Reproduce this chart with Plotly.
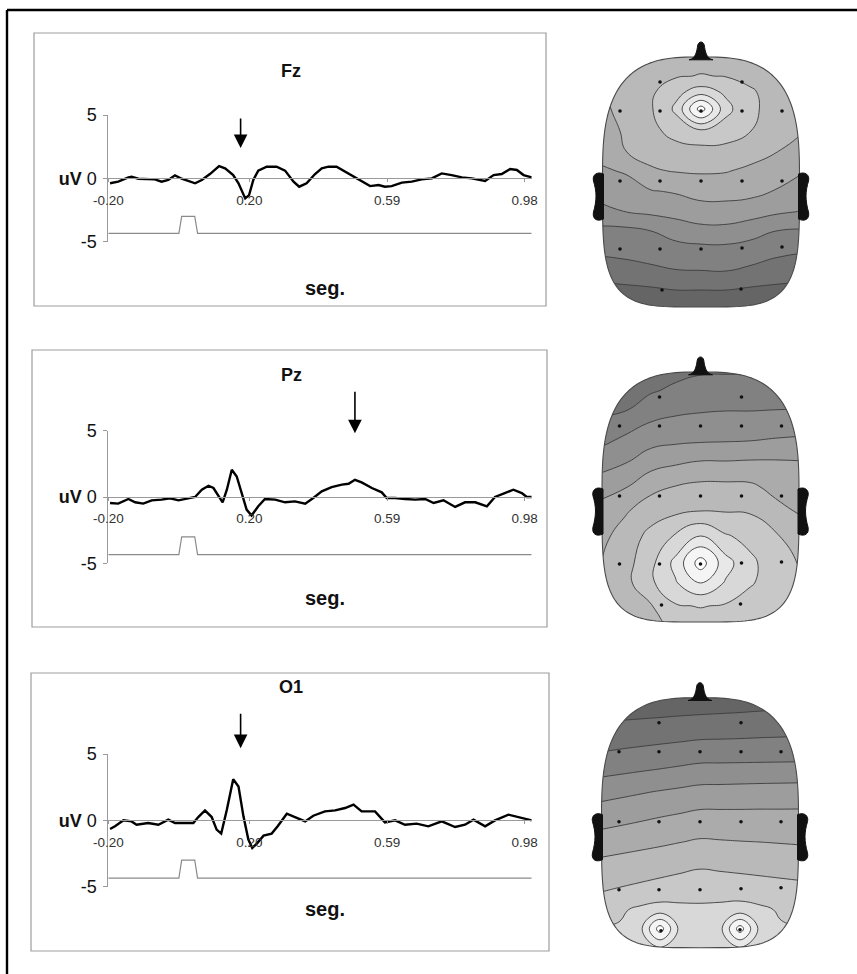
import numpy as np
import plotly.graph_objects as go

W, H = 857, 974
FONT = "Arial, 'Liberation Sans', Helvetica, sans-serif"

# ------------------------------------------------------------------ data
channels = ["Fz", "Pz", "O1"]
tick_vals = [-0.20, 0.20, 0.59, 0.98]
tick_text = ["-0.20", "0.20", "0.59", "0.98"]
y_tick_vals = [-5, 0, 5]
y_tick_text = ["-5", "<b>uV</b> 0", "5"]

fz_t = [-0.195, -0.172, -0.143, -0.134, -0.115, -0.068, -0.049, -0.030, -0.011, 0.008,
        0.046, 0.065, 0.088, 0.114, 0.131, 0.154, 0.169, 0.188, 0.199, 0.211,
        0.225, 0.249, 0.277, 0.301, 0.325, 0.341, 0.362, 0.386, 0.405, 0.424,
        0.447, 0.466, 0.495, 0.518, 0.542, 0.566, 0.584, 0.603, 0.632, 0.660,
        0.688, 0.717, 0.745, 0.773, 0.802, 0.830, 0.868, 0.892, 0.915, 0.939,
        0.958, 0.977, 1.000]
fz_v = [-0.39, -0.26, 0.08, 0.13, -0.03, -0.08, -0.26, -0.13, 0.24, -0.03,
        -0.39, -0.13, 0.34, 0.97, 0.79, 0.26, -0.39, -1.58, -1.32, -0.13,
        0.61, 0.92, 0.92, 0.61, -0.26, -0.66, -0.39, 0.34, 0.79, 0.92,
        0.92, 0.61, 0.13, -0.26, -0.61, -0.53, -0.66, -0.61, -0.34, -0.26,
        -0.08, 0.00, 0.39, 0.26, 0.08, 0.00, -0.21, 0.26, 0.34, 0.74,
        0.66, 0.26, 0.08]

pz_t = [-0.195, -0.172, -0.143, -0.124, -0.101, -0.077, -0.049, -0.025, -0.001, 0.022,
        0.046, 0.065, 0.084, 0.098, 0.112, 0.124, 0.136, 0.150, 0.164, 0.178,
        0.192, 0.206, 0.225, 0.244, 0.273, 0.301, 0.329, 0.358, 0.381, 0.405,
        0.433, 0.462, 0.481, 0.499, 0.518, 0.547, 0.575, 0.589, 0.613, 0.641,
        0.670, 0.698, 0.722, 0.750, 0.783, 0.811, 0.840, 0.873, 0.896, 0.920,
        0.948, 0.972, 0.986, 1.000]
pz_v = [-0.45, -0.50, -0.15, -0.40, -0.50, -0.25, -0.20, -0.10, -0.25, -0.15,
        0.00, 0.55, 0.85, 0.68, 0.05, -0.40, 0.55, 2.05, 1.55, 0.30,
        -0.95, -1.40, -0.70, -0.15, -0.20, -0.40, -0.33, -0.50, -0.08, 0.43,
        0.75, 0.93, 1.00, 1.30, 1.10, 0.68, 0.35, -0.08, -0.08, -0.15,
        -0.20, -0.15, -0.45, -0.25, -0.75, -0.40, -0.40, -0.70, 0.00, 0.25,
        0.55, 0.30, 0.00, 0.00]

o1_t = [-0.195, -0.181, -0.157, -0.134, -0.120, -0.087, -0.058, -0.030, -0.011, 0.041,
        0.055, 0.074, 0.093, 0.107, 0.120, 0.136, 0.154, 0.169, 0.183, 0.197,
        0.208, 0.221, 0.240, 0.263, 0.280, 0.306, 0.329, 0.358, 0.381, 0.414,
        0.443, 0.471, 0.495, 0.518, 0.556, 0.584, 0.613, 0.641, 0.674, 0.707,
        0.745, 0.783, 0.811, 0.835, 0.868, 0.896, 0.934, 0.962, 0.991, 1.000]
o1_v = [-0.65, -0.45, 0.00, -0.08, -0.33, -0.20, -0.33, 0.05, -0.20, -0.20,
        0.25, 0.75, 0.25, -0.70, -1.00, 0.80, 3.10, 2.55, 0.30, -1.45,
        -2.08, -1.75, -1.15, -1.00, -0.45, 0.50, 0.25, -0.08, 0.35, 0.68,
        0.75, 0.93, 1.18, 0.68, 0.68, -0.15, 0.00, -0.33, -0.25, -0.45,
        -0.08, -0.50, -0.33, 0.05, -0.45, 0.00, 0.43, 0.25, 0.10, 0.00]

stim_t = [-0.20, 0.000, 0.008, 0.045, 0.053, 1.00]
stim_v = [-4.35, -4.35, -3.00, -3.00, -4.35, -4.35]

arrow_t = [0.175, 0.499, 0.175]
arrow_v = [2.39, 4.80, 5.44]

# topographic maps: estimated field levels on a grid (head units)
fz_grid_u = [-1.05, -0.75, -0.5, -0.25, 0.0, 0.25, 0.5, 0.75, 1.05]
fz_grid_v = [1.3, 1.05, 0.9, 0.72, 0.5, 0.3, 0.1, -0.1, -0.3, -0.5, -0.7, -0.9, -1.1, -1.3]
fz_z = [
    [4.0, 4.4, 4.7, 4.9, 5.0, 4.9, 4.9, 4.7, 4.4],
    [4.2, 4.6, 5.0, 5.4, 5.55, 5.45, 5.2, 4.9, 4.5],
    [4.3, 4.9, 5.3, 6.2, 6.9, 6.3, 5.6, 5.1, 4.6],
    [4.2, 4.8, 5.4, 6.7, 10.0, 6.8, 5.7, 5.1, 4.6],
    [4.1, 4.6, 5.2, 5.9, 6.3, 6.0, 5.5, 5.0, 4.45],
    [3.8, 4.5, 4.8, 5.1, 5.17, 5.2, 4.9, 4.55, 4.0],
    [3.3, 3.6, 4.4, 4.55, 4.6, 4.55, 4.3, 4.0, 3.5],
    [2.8, 3.04, 3.45, 3.6, 3.9, 3.9, 3.8, 3.45, 3.0],
    [2.2, 2.55, 2.74, 2.9, 3.08, 3.1, 2.96, 2.7, 2.45],
    [1.25, 1.25, 1.5, 1.9, 2.2, 2.2, 1.9, 1.5, 1.4],
    [0.65, 0.75, 0.9, 1.1, 1.13, 1.15, 1.0, 0.7, 0.55],
    [0.0, 0.15, 0.3, 0.45, 0.48, 0.5, 0.3, 0.1, -0.05],
    [-0.9, -0.8, -0.7, -0.55, -0.55, -0.55, -0.7, -0.8, -0.9],
    [-1.0, -1.0, -1.0, -1.0, -1.0, -1.0, -1.0, -1.0, -1.0],
]

pz_grid_u = [-1.05, -0.75, -0.5, -0.25, 0.0, 0.25, 0.5, 0.75, 1.05]
pz_grid_v = [1.3, 1.05, 0.85, 0.6, 0.35, 0.1, -0.15, -0.4, -0.67, -0.87, -1.1, -1.3]
pz_z = [
    [-0.8, -0.6, -0.2, 0.1, 0.3, 0.3, 0.3, 0.2, 0.1],
    [-0.3, -0.1, 0.4, 0.7, 0.85, 0.9, 0.85, 0.75, 0.6],
    [0.35, 0.5, 1.1, 1.35, 1.45, 1.5, 1.5, 1.55, 1.6],
    [1.0, 1.55, 2.0, 2.1, 2.15, 2.2, 2.25, 2.4, 2.5],
    [1.9, 2.4, 3.0, 3.3, 3.5, 3.5, 3.55, 3.55, 3.5],
    [3.0, 3.4, 4.2, 4.5, 4.7, 4.7, 4.65, 4.2, 3.9],
    [3.8, 4.4, 5.0, 5.3, 5.5, 5.45, 5.4, 4.8, 4.3],
    [4.1, 4.9, 5.8, 6.6, 7.5, 6.6, 6.2, 5.6, 5.0],
    [4.35, 5.13, 6.2, 7.8, 10.0, 7.9, 6.7, 6.0, 5.3],
    [4.4, 5.2, 6.3, 7.4, 8.5, 7.4, 6.6, 6.0, 5.4],
    [4.4, 4.9, 5.4, 6.4, 6.55, 6.4, 6.0, 5.7, 5.3],
    [4.3, 4.7, 5.1, 5.8, 6.0, 5.8, 5.6, 5.4, 5.2],
]

o1_grid_u = [-1.05, -0.8, -0.6, -0.4, -0.2, 0.0, 0.2, 0.4, 0.6, 0.8, 1.05]
o1_grid_v = [1.3, 1.05, 0.8, 0.55, 0.3, 0.05, -0.2, -0.45, -0.7, -0.88, -1.07, -1.3]
o1_z = [
    [-1.5, -1.48, -1.46, -1.44, -1.42, -1.4, -1.34, -1.29, -1.23, -1.17, -1.1],
    [-0.7, -0.63, -0.58, -0.53, -0.47, -0.42, -0.38, -0.34, -0.29, -0.25, -0.2],
    [0.1, 0.22, 0.31, 0.40, 0.49, 0.58, 0.60, 0.62, 0.65, 0.67, 0.7],
    [1.0, 1.16, 1.28, 1.40, 1.53, 1.65, 1.66, 1.67, 1.68, 1.69, 1.7],
    [2.1, 2.27, 2.41, 2.55, 2.68, 2.82, 2.84, 2.87, 2.90, 2.92, 2.95],
    [3.0, 3.18, 3.33, 3.48, 3.62, 3.77, 3.77, 3.76, 3.76, 3.75, 3.75],
    [3.9, 4.07, 4.2, 4.33, 4.47, 4.6, 4.56, 4.52, 4.49, 4.45, 4.4],
    [4.8, 4.95, 5.07, 5.19, 5.31, 5.43, 5.37, 5.31, 5.25, 5.18, 5.1],
    [5.45, 5.62, 5.75, 5.88, 6.01, 6.14, 6.07, 6.01, 5.94, 5.88, 5.8],
    [5.95, 6.35, 6.7, 6.95, 6.8, 6.7, 6.8, 6.95, 6.7, 6.4, 6.2],
    [6.4, 6.6, 7.2, 10.0, 7.2, 7.0, 7.2, 10.0, 7.2, 6.6, 6.4],
    [6.3, 6.45, 6.7, 6.9, 6.7, 6.6, 6.7, 6.9, 6.7, 6.45, 6.3],
]

elec_u = [-0.41, 0.41,
          -0.81, -0.41, 0.0, 0.41, 0.81,
          -0.81, -0.41, 0.0, 0.41, 0.81,
          -0.81, -0.41, 0.0, 0.41, 0.81,
          -0.39, 0.40]
elec_v = [0.99, 0.99,
          0.70, 0.70, 0.70, 0.70, 0.70,
          0.0, 0.0, 0.0, 0.0, 0.0,
          -0.68, -0.68, -0.68, -0.67, -0.66,
          -1.09, -1.08]

band_grays = ["#656565", "#737373", "#818181", "#8f8f8f", "#9d9d9d", "#ababab",
              "#b9b9b9", "#c8c8c8", "#d8d8d8", "#e8e8e8", "#f5f5f5", "#ffffff"]

# ------------------------------------------------------------------ layout helpers
def fx(px):
    return px / W


def fy(py):
    return 1 - py / H


wave_geo = [
    dict(top=115.0, bot=241.7, box=(34, 33, 546, 306), ty=59, sy=275, alen=31),
    dict(top=430.7, bot=563.3, box=(32, 350, 547, 627), ty=375, sy=598, alen=43),
    dict(top=754.0, bot=886.7, box=(31, 673, 549, 951), ty=699, sy=922, alen=36),
]
XL, XR = 108.3, 531.7
T0, T1 = -0.20, 1.00
YMIN, YMAX = -5, 5

map_geo = [dict(cx=701.0, cy=181.0), dict(cx=700.5, cy=496.0), dict(cx=700.0, cy=821.7)]
SC = 100.0   # pixels per head unit
UR, VR = 1.2, 1.45

waves = [(fz_t, fz_v), (pz_t, pz_v), (o1_t, o1_v)]
maps = [(fz_grid_u, fz_grid_v, fz_z), (pz_grid_u, pz_grid_v, pz_z), (o1_grid_u, o1_grid_v, o1_z)]

fig = go.Figure()
layout = dict(
    width=W, height=H, margin=dict(l=0, r=0, t=0, b=0, pad=0, autoexpand=False),
    paper_bgcolor="white", plot_bgcolor="white", showlegend=False,
    font=dict(family=FONT, color="black"),
)
shapes = []
annotations = []

AXC = "#9a9a9a"

for i in range(3):
    g = wave_geo[i]
    n = "" if i == 0 else str(i + 1)
    xr, yr = "x" + n, "y" + n
    d0, d1 = fy(g["bot"]), fy(g["top"])
    pos0 = d0 + (0 - YMIN) / (YMAX - YMIN) * (d1 - d0)
    layout["xaxis" + n] = dict(
        domain=[fx(XL), fx(XR)], range=[T0, T1], anchor="free", position=pos0,
        showline=True, linecolor=AXC, linewidth=1, ticks="outside", ticklen=3,
        tickcolor=AXC, tickvals=tick_vals, ticktext=tick_text,
        tickfont=dict(size=13.5, color="#333333", family=FONT),
        ticklabelstandoff=6, showgrid=False, zeroline=False, fixedrange=True,
        automargin=False,
    )
    layout["yaxis" + n] = dict(
        domain=[d0, d1], range=[YMIN, YMAX], anchor=xr,
        showline=True, linecolor=AXC, linewidth=1, ticks="outside", ticklen=4,
        tickcolor=AXC, tickvals=y_tick_vals, ticktext=y_tick_text,
        tickfont=dict(size=18, color="#111111", family=FONT),
        ticklabelstandoff=3, showgrid=False, zeroline=False, fixedrange=True,
        automargin=False,
    )
    fig.add_trace(go.Scatter(x=stim_t, y=stim_v, xaxis=xr, yaxis=yr, mode="lines",
                             line=dict(color="#8a8a8a", width=1.2), hoverinfo="skip"))
    t, v = waves[i]
    fig.add_trace(go.Scatter(x=t, y=v, xaxis=xr, yaxis=yr, mode="lines",
                             line=dict(color="black", width=2.4), hoverinfo="skip"))
    bx0, by0, bx1, by1 = g["box"]
    shapes.append(dict(type="rect", xref="paper", yref="paper",
                       x0=fx(bx0), x1=fx(bx1), y0=fy(by1), y1=fy(by0),
                       line=dict(color="#9d9d9d", width=1.2), layer="below"))
    annotations.append(dict(text="<b>%s</b>" % channels[i], xref="paper", yref="paper",
                            x=fx(291), y=fy(g["ty"]), showarrow=False,
                            font=dict(size=18, family=FONT, color="#111")))
    annotations.append(dict(text="<b>seg.</b>", xref="paper", yref="paper",
                            x=fx(325), y=fy(g["sy"]), showarrow=False,
                            font=dict(size=20, family=FONT, color="#111")))
    annotations.append(dict(text="", x=arrow_t[i], xref=xr,
                            y=(arrow_v[i] - YMIN) / (YMAX - YMIN), yref=yr + " domain",
                            ax=0, ay=-g["alen"], axref="pixel", ayref="pixel",
                            showarrow=True, arrowhead=2, arrowsize=1.7, arrowwidth=1.6,
                            arrowcolor="black", standoff=0))


# ------------------------------------------------------------------ head drawing helpers
def head_pts(a=0.985, bt=1.24, bb=1.26, nt=3.0, nb=4.2, N=200):
    pts = []
    for th in np.linspace(0, 2 * np.pi, N, endpoint=False):
        c, s = np.cos(th), np.sin(th)
        if s >= 0:
            nn, b = nt, bt
        else:
            nn, b = nb, bb
        u = a * np.sign(c) * abs(c) ** (2.0 / nn)
        vv = b * np.sign(s) * abs(s) ** (2.0 / nn)
        pts.append((u, vv))
    return pts


def pts_path(pts):
    return "M " + " L ".join("%.4f,%.4f" % p for p in pts) + " Z"


def ear_path(sg):
    p = [(-0.975, 0.07), (-1.04, 0.10), (-1.09, 0.06), (-1.075, 0.0),
         (-1.06, -0.05), (-1.05, -0.10), (-1.05, -0.15),
         (-1.05, -0.20), (-1.06, -0.26), (-1.075, -0.31),
         (-1.09, -0.38), (-1.04, -0.41), (-0.975, -0.38)]
    q = [("%.4f,%.4f" % (sg * x, y)) for x, y in p]
    return ("M %s C %s %s %s C %s %s %s C %s %s %s C %s %s %s Z" %
            tuple(q))


nose = ("M -0.12,1.212 C -0.05,1.225 -0.042,1.30 -0.032,1.36 "
        "C -0.022,1.40 0.022,1.40 0.032,1.36 C 0.042,1.30 0.05,1.225 0.12,1.212 Z")

colorscale = [[k / (len(band_grays) - 1), c] for k, c in enumerate(band_grays)]
hp = head_pts()
head_d = pts_path(hp)
mask_d = ("M %.3f,%.3f L %.3f,%.3f L %.3f,%.3f L %.3f,%.3f Z " %
          (-UR, -VR, UR, -VR, UR, VR, -UR, VR)) + head_d

for i in range(3):
    g = map_geo[i]
    n = str(i + 4)
    xr, yr = "x" + n, "y" + n
    layout["xaxis" + n] = dict(domain=[fx(g["cx"] - UR * SC), fx(g["cx"] + UR * SC)],
                               range=[-UR, UR], anchor=yr, visible=False, fixedrange=True)
    layout["yaxis" + n] = dict(domain=[fy(g["cy"] + VR * SC), fy(g["cy"] - VR * SC)],
                               range=[-VR, VR], anchor=xr, visible=False, fixedrange=True)
    gu, gv, gz = maps[i]
    fig.add_trace(go.Contour(
        x=gu, y=gv[::-1], z=gz[::-1], xaxis=xr, yaxis=yr,
        colorscale=colorscale, showscale=False, hoverinfo="skip",
        contours=dict(start=-0.5, end=9.5, size=1, coloring="fill", showlines=True),
        line=dict(color="#3c3c3c", width=0.9, smoothing=1.3),
    ))
    fig.add_trace(go.Scatter(x=elec_u, y=elec_v, xaxis=xr, yaxis=yr, mode="markers",
                             marker=dict(color="#111111", size=3.6), hoverinfo="skip"))
    shapes.append(dict(type="path", xref=xr, yref=yr, path=mask_d, fillcolor="white",
                       fillrule="evenodd", line=dict(width=0), layer="above"))
    shapes.append(dict(type="path", xref=xr, yref=yr, path=head_d,
                       fillcolor="rgba(0,0,0,0)", line=dict(color="#4a4a4a", width=1.1),
                       layer="above"))
    shapes.append(dict(type="path", xref=xr, yref=yr, path=nose, fillcolor="#111111",
                       line=dict(color="#111111", width=1), layer="above"))
    for sg in (1, -1):
        shapes.append(dict(type="path", xref=xr, yref=yr, path=ear_path(sg),
                           fillcolor="#111111", line=dict(color="#111111", width=1),
                           layer="above"))

# outer frame (top and left edges of the cropped figure border)
shapes.append(dict(type="line", xref="paper", yref="paper", x0=fx(7), x1=1.0,
                   y0=fy(10), y1=fy(10), line=dict(color="black", width=2.4)))
shapes.append(dict(type="line", xref="paper", yref="paper", x0=fx(7), x1=fx(7),
                   y0=fy(10), y1=0.0, line=dict(color="black", width=2.4)))

layout["shapes"] = shapes
layout["annotations"] = annotations
fig.update_layout(**layout)
fig.write_html("out.html", config={"displayModeBar": False, "staticPlot": True},
               post_script="document.body.style.margin='0px';")
